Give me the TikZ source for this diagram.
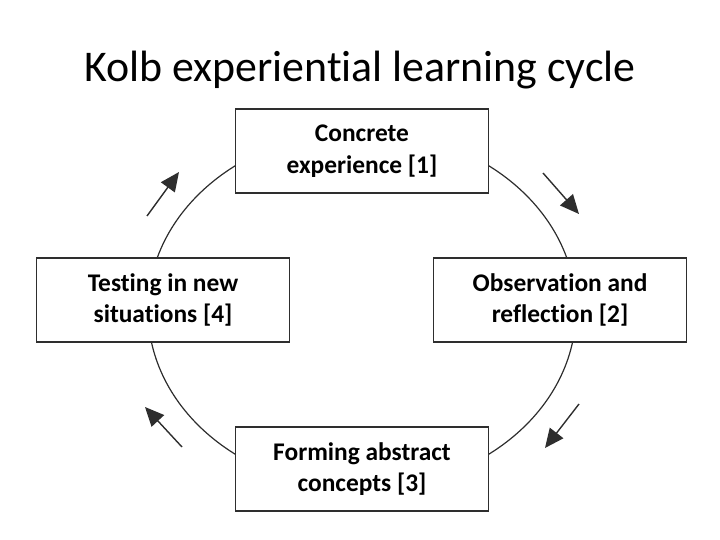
\documentclass[tikz,border=0pt]{standalone}
\usepackage{fontspec}
\setmainfont{Carlito}[Ligatures=NoCommon]
\usetikzlibrary{arrows.meta}
\definecolor{KolbGrey}{HTML}{2E2E2E}

\begin{document}
\begin{tikzpicture}[x=1bp, y=-1bp, >={Triangle[length=19bp, width=17bp]},
        box/.style={rectangle, draw=KolbGrey, line width=1.6bp, fill=white, minimum width=253bp, minimum height=84bp, text centered, align=center, font=\fontsize{25.5}{31.5}\selectfont\bfseries},
        ring/.style={KolbGrey, line width=1.2bp},
        arrow/.style={->, line width=1.4bp, KolbGrey}]

        \useasboundingbox (0,0) rectangle (720,540);

        \node[font=\fontsize{44}{50}\selectfont] (title) at (360,70) {Kolb experiential learning cycle};

        \draw[ring] (362,310) ellipse [x radius=214, y radius=179];

        \node[box] (conc) at (362,151) {Concrete\\experience [1]};
        \node[box] (obs) at (560,300) {Observation and\\reflection [2]};
        \node[box] (abs) at (362,469) {Forming abstract\\concepts [3]};
        \node[box] (test) at (163,300) {Testing in new\\situations [4]};

        \coordinate (inA) at (543,173);  \coordinate (outA) at (579,214);
        \coordinate (inB) at (579,404);  \coordinate (outB) at (545,448);
        \coordinate (inC) at (182,447);  \coordinate (outC) at (145,407);
        \coordinate (inD) at (147,216);  \coordinate (outD) at (179,172);

        \draw[arrow] (inA) -- (outA);
        \draw[arrow] (inB) -- (outB);
        \draw[arrow] (inC) -- (outC);
        \draw[arrow] (inD) -- (outD);
    \end{tikzpicture}
\end{document}
